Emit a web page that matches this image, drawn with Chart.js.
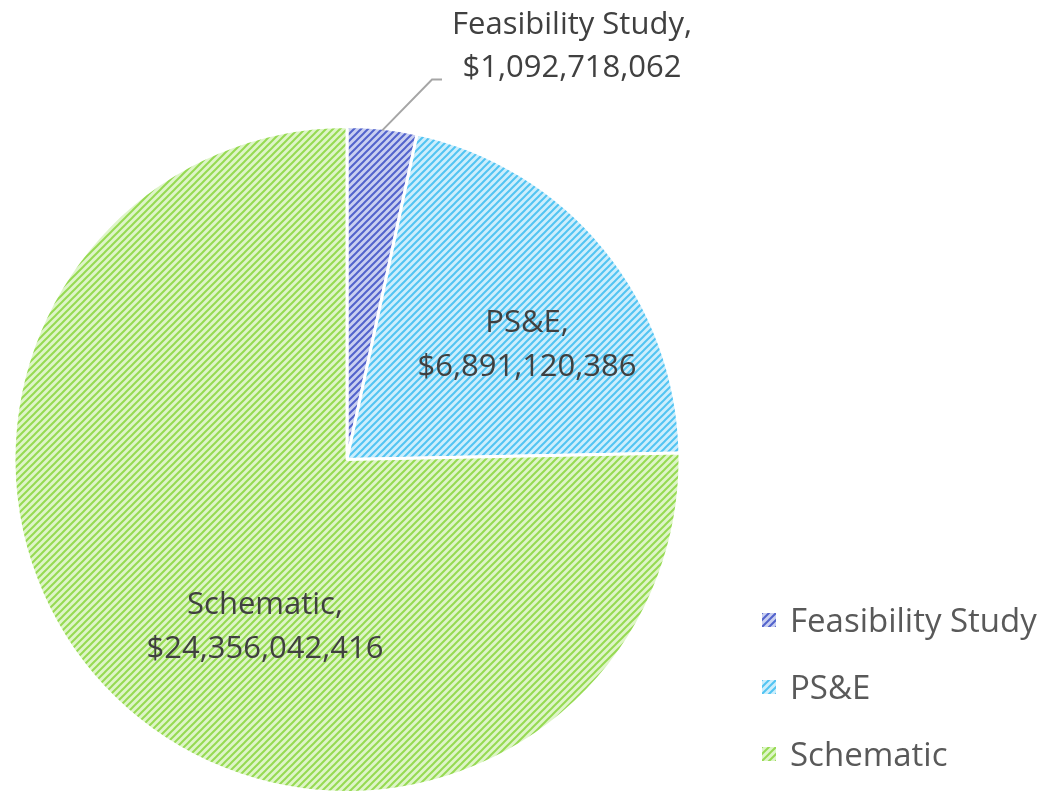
<!DOCTYPE html>
<html>
<head>
<meta charset="utf-8">
<script src="https://cdn.jsdelivr.net/npm/chart.js@4/dist/chart.umd.min.js"></script>
<style>
  html, body { margin: 0; padding: 0; background: #fff; }
  #wrap { position: relative; width: 1046px; height: 794px; }
  #leyenda { position: absolute; left: 762px; top: 0; font-family: "Open Sans", sans-serif; font-size: 33px; color: #595959; }
  .item { position: absolute; left: 0; white-space: nowrap; display: flex; align-items: center; }
  .item canvas { width: 14px; height: 14px; margin-right: 14px; }
</style>
</head>
<body>
<div id="wrap">
  <canvas id="grafico" width="1046" height="794"></canvas>
  <div id="leyenda"></div>
</div>
<script>
const categorias = ['Feasibility Study', 'PS&E', 'Schematic'];
const valores = [1092718062, 6891120386, 24356042416];
const colorFondo = ['#c9cff1', '#cdeefc', '#def5c8'];
const colorLinea = ['#5263cc', '#52c4f2', '#96da52'];

// trama diagonal como en el original
function trama(fondo, linea) {
  const c = document.createElement('canvas');
  c.width = 7; c.height = 7;
  const g = c.getContext('2d');
  g.fillStyle = fondo;
  g.fillRect(0, 0, 7, 7);
  g.strokeStyle = linea;
  g.lineWidth = 2;
  g.beginPath();
  g.moveTo(-1, 8); g.lineTo(8, -1);
  g.moveTo(-1, 1); g.lineTo(1, -1);
  g.moveTo(6, 8); g.lineTo(8, 6);
  g.stroke();
  return c;
}

const ctx = document.getElementById('grafico').getContext('2d');
const tramas = colorFondo.map((f, i) => ctx.createPattern(trama(f, colorLinea[i]), 'repeat'));

function formato(v) {
  return '$' + v.toLocaleString('en-US');
}

// etiquetas de datos dibujadas sobre el pastel
const etiquetas = {
  id: 'etiquetas',
  afterDraw(chart) {
    const arcos = chart.getDatasetMeta(0).data;
    const c = chart.ctx;
    const cx = arcos[0].x, cy = arcos[0].y, r = arcos[0].outerRadius;
    c.save();
    c.font = '31px "Open Sans", sans-serif';
    c.fillStyle = '#404040';
    c.textAlign = 'center';
    c.textBaseline = 'middle';

    // Feasibility Study: fuera, con línea guía
    const a0 = arcos[0];
    const ang0 = (a0.startAngle + a0.endAngle) / 2;
    const px = cx + Math.cos(ang0) * r, py = cy + Math.sin(ang0) * r;
    c.strokeStyle = '#a6a6a6';
    c.lineWidth = 2;
    c.beginPath();
    c.moveTo(px, py + 2);
    c.lineTo(cx + 85, cy - r - 47);
    c.lineTo(cx + 95, cy - r - 47);
    c.stroke();
    c.fillText(categorias[0] + ',', cx + 225, cy - r - 101);
    c.fillText(formato(valores[0]), cx + 225, cy - r - 58);

    // PS&E y Schematic: dentro
    const pos = [null, [180, -114], [-82, 168]];
    for (let i = 1; i < arcos.length; i++) {
      const x = cx + pos[i][0], y = cy + pos[i][1];
      c.fillText(categorias[i] + ',', x, y - 22);
      c.fillText(formato(valores[i]), x, y + 22);
    }
    c.restore();
  }
};

new Chart(ctx, {
  type: 'pie',
  data: {
    labels: categorias,
    datasets: [{
      data: valores,
      backgroundColor: tramas,
      borderColor: '#ffffff',
      borderWidth: 3
    }]
  },
  options: {
    responsive: false,
    animation: false,
    layout: { padding: { left: 12, right: 364, top: 125, bottom: 0 } },
    plugins: {
      legend: { display: false },
      tooltip: { enabled: false }
    }
  },
  plugins: [etiquetas]
});

// leyenda a la derecha
const leyenda = document.getElementById('leyenda');
const filas = [622, 689, 756];
categorias.forEach((nombre, i) => {
  const div = document.createElement('div');
  div.className = 'item';
  div.style.top = (filas[i] - 25) + 'px';
  const caja = document.createElement('canvas');
  caja.width = 14; caja.height = 14;
  const g = caja.getContext('2d');
  g.fillStyle = g.createPattern(trama(colorFondo[i], colorLinea[i]), 'repeat');
  g.fillRect(0, 0, 14, 14);
  div.appendChild(caja);
  const txt = document.createElement('span');
  txt.textContent = nombre;
  div.appendChild(txt);
  leyenda.appendChild(div);
});
</script>
</body>
</html>
